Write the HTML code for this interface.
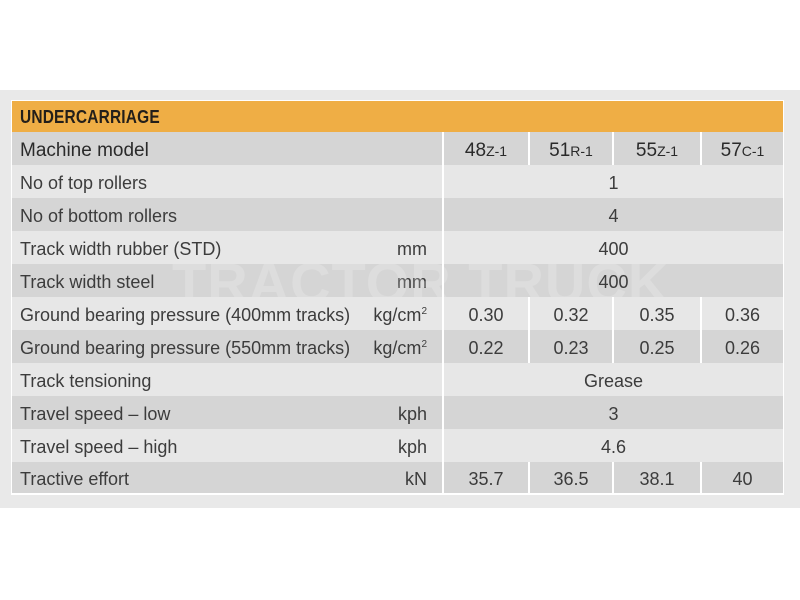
<!DOCTYPE html>
<html>
<head>
<meta charset="utf-8">
<style>
  html,body{margin:0;padding:0;}
  body{width:800px;height:600px;background:#ffffff;position:relative;overflow:hidden;
       font-family:"Liberation Sans",sans-serif;color:#3c3c3c;}
  .panel{position:absolute;left:0;top:90px;width:800px;height:418px;background:#e9e9e9;}
  .tbl{position:absolute;left:11px;top:100px;width:773px;height:395px;background:#ffffff;}
  .row{position:absolute;left:12px;width:771px;}
  .dark{background:#d5d5d5;}
  .light{background:#e7e7e7;}
  .hdr{position:absolute;left:12px;top:101px;width:771px;height:31px;background:#efae45;}
  .hdr span{position:absolute;left:8px;top:1px;line-height:31px;font-weight:bold;font-size:18px;color:#231f1a;
            transform:scaleX(0.86);transform-origin:left center;letter-spacing:0.2px;}
  .lbl{position:absolute;left:8px;top:2px;font-size:18px;white-space:nowrap;}
  .unit{position:absolute;right:356px;top:2px;font-size:18px;white-space:nowrap;}
  .val{position:absolute;top:2px;text-align:center;font-size:18px;white-space:nowrap;}
  .div{position:absolute;top:0;width:2px;background:#ffffff;}
  sup{font-size:10px;vertical-align:7px;line-height:0;}
  .sm{font-size:14px;}
  .wm{position:absolute;left:12px;top:264px;width:771px;height:33px;overflow:hidden;}
  .wm span{position:absolute;left:160px;top:-9px;line-height:56px;font-size:56px;font-weight:bold;color:rgba(255,255,255,0.2);
           letter-spacing:1px;white-space:nowrap;}
</style>
</head>
<body>
<div class="panel"></div>
<div class="tbl"></div>
<div class="hdr"><span>UNDERCARRIAGE</span></div>

<!-- Machine model -->
<div class="row dark" style="top:132px;height:33px;line-height:33px;">
  <div class="lbl" style="font-size:19px;color:#2a2a2a;">Machine model</div>
  <div class="div" style="left:430px;height:33px;"></div>
  <div class="div" style="left:516px;height:33px;"></div>
  <div class="div" style="left:600px;height:33px;"></div>
  <div class="div" style="left:688px;height:33px;"></div>
  <div class="val" style="left:432px;width:84px;font-size:19px;color:#2a2a2a;">48<span class="sm">Z-1</span></div>
  <div class="val" style="left:518px;width:82px;font-size:19px;color:#2a2a2a;">51<span class="sm">R-1</span></div>
  <div class="val" style="left:602px;width:86px;font-size:19px;color:#2a2a2a;">55<span class="sm">Z-1</span></div>
  <div class="val" style="left:690px;width:81px;font-size:19px;color:#2a2a2a;">57<span class="sm">C-1</span></div>
</div>

<!-- No of top rollers -->
<div class="row light" style="top:165px;height:33px;line-height:33px;">
  <div class="lbl">No of top rollers</div>
  <div class="div" style="left:430px;height:33px;"></div>
  <div class="val" style="left:432px;width:339px;">1</div>
</div>

<!-- No of bottom rollers -->
<div class="row dark" style="top:198px;height:33px;line-height:33px;">
  <div class="lbl">No of bottom rollers</div>
  <div class="div" style="left:430px;height:33px;"></div>
  <div class="val" style="left:432px;width:339px;">4</div>
</div>

<!-- Track width rubber -->
<div class="row light" style="top:231px;height:33px;line-height:33px;">
  <div class="lbl">Track width rubber (STD)</div>
  <div class="unit">mm</div>
  <div class="div" style="left:430px;height:33px;"></div>
  <div class="val" style="left:432px;width:339px;">400</div>
</div>

<!-- Track width steel -->
<div class="row dark" style="top:264px;height:33px;line-height:33px;">
  <div class="lbl">Track width steel</div>
  <div class="unit">mm</div>
  <div class="div" style="left:430px;height:33px;"></div>
  <div class="val" style="left:432px;width:339px;">400</div>
</div>
<div class="wm"><span>TRACTOR TRUCK</span></div>

<!-- GBP 400 -->
<div class="row light" style="top:297px;height:33px;line-height:33px;">
  <div class="lbl">Ground bearing pressure (400mm tracks)</div>
  <div class="unit">kg/cm<sup>2</sup></div>
  <div class="div" style="left:430px;height:33px;"></div>
  <div class="div" style="left:516px;height:33px;"></div>
  <div class="div" style="left:600px;height:33px;"></div>
  <div class="div" style="left:688px;height:33px;"></div>
  <div class="val" style="left:432px;width:84px;">0.30</div>
  <div class="val" style="left:518px;width:82px;">0.32</div>
  <div class="val" style="left:602px;width:86px;">0.35</div>
  <div class="val" style="left:690px;width:81px;">0.36</div>
</div>

<!-- GBP 550 -->
<div class="row dark" style="top:330px;height:33px;line-height:33px;">
  <div class="lbl">Ground bearing pressure (550mm tracks)</div>
  <div class="unit">kg/cm<sup>2</sup></div>
  <div class="div" style="left:430px;height:33px;"></div>
  <div class="div" style="left:516px;height:33px;"></div>
  <div class="div" style="left:600px;height:33px;"></div>
  <div class="div" style="left:688px;height:33px;"></div>
  <div class="val" style="left:432px;width:84px;">0.22</div>
  <div class="val" style="left:518px;width:82px;">0.23</div>
  <div class="val" style="left:602px;width:86px;">0.25</div>
  <div class="val" style="left:690px;width:81px;">0.26</div>
</div>

<!-- Track tensioning -->
<div class="row light" style="top:363px;height:33px;line-height:33px;">
  <div class="lbl">Track tensioning</div>
  <div class="div" style="left:430px;height:33px;"></div>
  <div class="val" style="left:432px;width:339px;">Grease</div>
</div>

<!-- Travel speed low -->
<div class="row dark" style="top:396px;height:33px;line-height:33px;">
  <div class="lbl">Travel speed – low</div>
  <div class="unit">kph</div>
  <div class="div" style="left:430px;height:33px;"></div>
  <div class="val" style="left:432px;width:339px;">3</div>
</div>

<!-- Travel speed high -->
<div class="row light" style="top:429px;height:33px;line-height:33px;">
  <div class="lbl">Travel speed – high</div>
  <div class="unit">kph</div>
  <div class="div" style="left:430px;height:33px;"></div>
  <div class="val" style="left:432px;width:339px;">4.6</div>
</div>

<!-- Tractive effort -->
<div class="row dark" style="top:462px;height:31px;line-height:31px;">
  <div class="lbl">Tractive effort</div>
  <div class="unit">kN</div>
  <div class="div" style="left:430px;height:31px;"></div>
  <div class="div" style="left:516px;height:31px;"></div>
  <div class="div" style="left:600px;height:31px;"></div>
  <div class="div" style="left:688px;height:31px;"></div>
  <div class="val" style="left:432px;width:84px;">35.7</div>
  <div class="val" style="left:518px;width:82px;">36.5</div>
  <div class="val" style="left:602px;width:86px;">38.1</div>
  <div class="val" style="left:690px;width:81px;">40</div>
</div>
</body>
</html>
